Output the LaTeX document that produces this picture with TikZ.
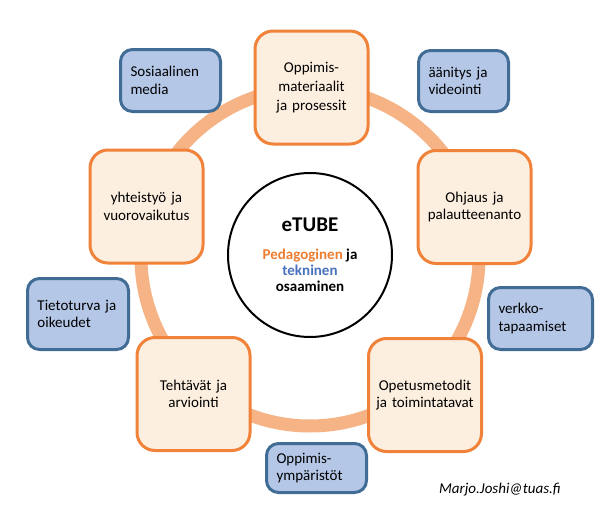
\documentclass[tikz,border=0pt]{standalone}
\usepackage{fontspec}
\setmainfont{Carlito}

\definecolor{ringorange}{RGB}{246,180,134}
\definecolor{topicline}{RGB}{240,130,58}
\definecolor{topicfill}{RGB}{253,239,224}
\definecolor{toolline}{RGB}{65,108,150}
\definecolor{toolfill}{RGB}{180,199,231}
\definecolor{pedaorange}{RGB}{237,125,49}
\definecolor{techblue}{RGB}{72,114,190}

\begin{document}
\begin{tikzpicture}[x=1pt,y=-1pt,
    topic/.style={draw=topicline,fill=topicfill,line width=3pt,rounded corners=18pt,
      minimum width=113pt,minimum height=113pt,text width=110pt,inner sep=0pt,
      align=center,font=\textfontsize},
    tool/.style={draw=toolline,fill=toolfill,line width=3pt,rounded corners=12pt,
      inner xsep=10pt,inner ysep=0pt,align=left,font=\textfontsize}]
    \pgfmathsetmacro{\ringradius}{169}
    \pgfmathsetmacro{\ringwidth}{13}
    \pgfmathsetmacro{\coresize}{164}
    \providecommand{\textfontsize}{\fontsize{15}{17.5}\selectfont}
    \providecommand{\corefontsize}{\fontsize{15}{16}\selectfont\bfseries}
    \providecommand{\titlefontsize}{\fontsize{21}{24}\selectfont}
    \fill[white] (0,0) rectangle (603,506);
    \useasboundingbox (0,0) rectangle (603,506);
    % ring behind the topics
    \draw[ringorange,line width=\ringwidth pt] (310,257) circle [radius=\ringradius pt];
    \node[circle,draw,line width=2pt,fill=white,minimum size=\coresize pt,inner sep=0pt,
      align=center,font=\corefontsize] (core) at (310,255)
      {{\titlefontsize eTUBE}\\[12pt]
       \textcolor{pedaorange}{Pedagoginen} ja\\
       \textcolor{techblue}{tekninen}\\
       osaaminen};
    % topics on the ring
    \node[topic,font=\fontsize{15}{19}\selectfont] (material) at (311.5,87.5) {Oppimis-\\materiaalit\\ja prosessit};
    \node[topic] (guidance) at (474.5,207) {Ohjaus ja\\palautteenanto};
    \node[topic] (methods) at (425,395) {Opetusmetodit\\ja toimintatavat};
    \node[topic] (tasks) at (193.5,394) {Tehtävät ja\\arviointi};
    \node[topic] (interaction) at (146.5,206.5) {yhteistyö ja\\vuorovaikutus};
    % tools
    \node[tool,text width=80pt,minimum height=62pt] (social) at (170.5,80.5) {Sosiaalinen\\media};
    \node[tool,text width=70pt,minimum height=61pt] (recording) at (463.5,81) {äänitys ja\\videointi};
    \node[tool,text width=81pt,minimum height=71pt] (security) at (78,314) {Tietoturva ja\\oikeudet};
    \node[tool,text width=84pt,minimum height=62pt] (meetings) at (540.5,318.5) {verkko-\\tapaamiset};
    \node[tool,text width=80pt,minimum height=49pt] (environments) at (316.5,468) {Oppimis-\\ympäristöt};
    \node[font=\textfontsize\itshape] (contact) at (500,490) {Marjo.Joshi@tuas.fi};
\end{tikzpicture}
\end{document}
